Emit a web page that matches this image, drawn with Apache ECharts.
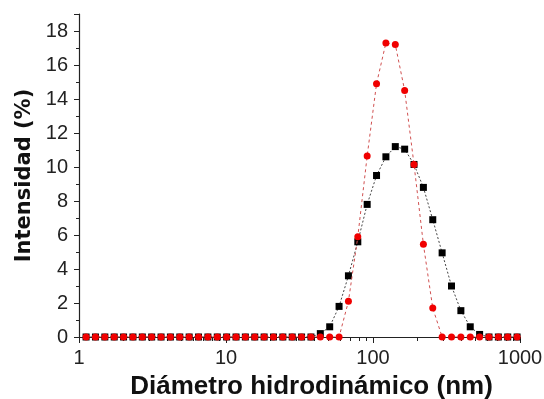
<!DOCTYPE html>
<html>
<head>
<meta charset="utf-8">
<script src="https://cdn.jsdelivr.net/npm/echarts@6/dist/echarts.min.js"></script>
<style>
html,body{margin:0;padding:0;background:#fff;}
#chart{width:544px;height:399px;}
</style>
</head>
<body>
<div id="chart"></div>
<script>
// Hydrodynamic diameter bins (nm)
const diameters = [1.117, 1.294, 1.499, 1.736, 2.01, 2.328, 2.696, 3.122, 3.615, 4.187, 4.849, 5.615, 6.503, 7.531, 8.721, 10.1, 11.7, 13.54, 15.69, 18.17, 21.04, 24.36, 28.21, 32.67, 37.84, 43.82, 50.75, 58.77, 68.06, 78.82, 91.28, 105.7, 122.4, 141.8, 164.2, 190.1, 220.2, 255, 295.3, 342, 396.1, 458.7, 531.2, 615.1, 712.4, 825, 955.4];
// Intensity (%) – black squares
const blackValues = [0,0,0,0,0,0,0,0,0,0,0,0,0,0,0,0,0,0,0,0,0,0,0,0,0, 0.2, 0.6, 1.8, 3.6, 5.6, 7.8, 9.5, 10.6, 11.2, 11.05, 10.15, 8.8, 6.9, 4.95, 3.0, 1.55, 0.6, 0.15, 0,0,0,0];
// Intensity (%) – red circles
const redValues = [0,0,0,0,0,0,0,0,0,0,0,0,0,0,0,0,0,0,0,0,0,0,0,0,0, 0, 0, 0, 2.1, 5.9, 10.65, 14.9, 17.3, 17.2, 14.5, 10.15, 5.45, 1.7, 0, 0,0,0,0, 0,0,0,0];
const xMajorTicks = [1, 10, 100, 1000];
const xMinorTicks = [2,3,4,5,6,7,8,9,20,30,40,50,60,70,80,90,200,300,400,500,600,700,800,900];

const blackData = diameters.map((d, i) => [d, blackValues[i]]);
const redData = diameters.map((d, i) => [d, redValues[i]]);

const chart = echarts.init(document.getElementById('chart'), null, {renderer: 'canvas'});
const axisColor = '#222';
chart.setOption({
  animation: false,
  backgroundColor: '#fff',
  grid: {left: 79, right: 24, top: 14, bottom: 62, containLabel: false, outerBoundsMode: 'none'},
  xAxis: [{
    type: 'log', logBase: 10, min: 1, max: 1000, position: 'bottom',
    name: 'Diámetro hidrodinámico (nm)', nameLocation: 'middle', nameGap: 37,
    nameTextStyle: {fontFamily: 'Liberation Sans', fontWeight: 'bold', fontSize: 26, color: '#111', padding: [0, 0, 0, 24]},
    axisLine: {show: true, onZero: false, lineStyle: {color: axisColor, width: 1.2}},
    axisTick: {show: true, length: 4, inside: false, customValues: xMinorTicks.concat(xMajorTicks).sort((a, b) => a - b), lineStyle: {color: axisColor}},
    axisLabel: {customValues: xMajorTicks, margin: 11, fontFamily: 'Liberation Sans', fontSize: 20, color: '#222',
      formatter: v => String(Math.round(v))},
    splitLine: {show: false}, minorTick: {show: false}, minorSplitLine: {show: false}
  }, {
    type: 'log', logBase: 10, min: 1, max: 1000, position: 'bottom', gridIndex: 0,
    axisLine: {show: false},
    axisTick: {show: true, length: 6, inside: false, customValues: xMajorTicks, lineStyle: {color: axisColor}},
    axisLabel: {show: false},
    splitLine: {show: false}
  }],
  yAxis: {
    type: 'value', min: 0, max: 19, interval: 2,
    name: 'Intensidad (%)', nameLocation: 'middle', nameGap: 40,
    nameTextStyle: {fontFamily: 'DejaVu Sans', fontWeight: 'bold', fontSize: 21, color: '#111'},
    axisLine: {show: true, lineStyle: {color: axisColor, width: 1.2}},
    axisTick: {show: true, length: 5, lineStyle: {color: axisColor}},
    minorTick: {show: true, splitNumber: 2, length: 3, lineStyle: {color: axisColor}},
    axisLabel: {margin: 11, fontFamily: 'Liberation Sans', fontSize: 20, color: '#222',
      formatter: v => (v > 18 ? '' : String(v))},
    splitLine: {show: false}
  },
  series: [{
    type: 'line', data: blackData, xAxisIndex: 0,
    symbol: 'rect', symbolSize: 7, showAllSymbol: true,
    itemStyle: {color: '#000'},
    lineStyle: {color: '#444', width: 1, type: [2, 2]},
    z: 2
  }, {
    type: 'line', data: redData, xAxisIndex: 0,
    symbol: 'circle', symbolSize: 7, showAllSymbol: true,
    itemStyle: {color: '#f00000'},
    lineStyle: {color: '#d05050', width: 1, type: [3, 3]},
    z: 3
  }]
});
</script>
</body>
</html>
